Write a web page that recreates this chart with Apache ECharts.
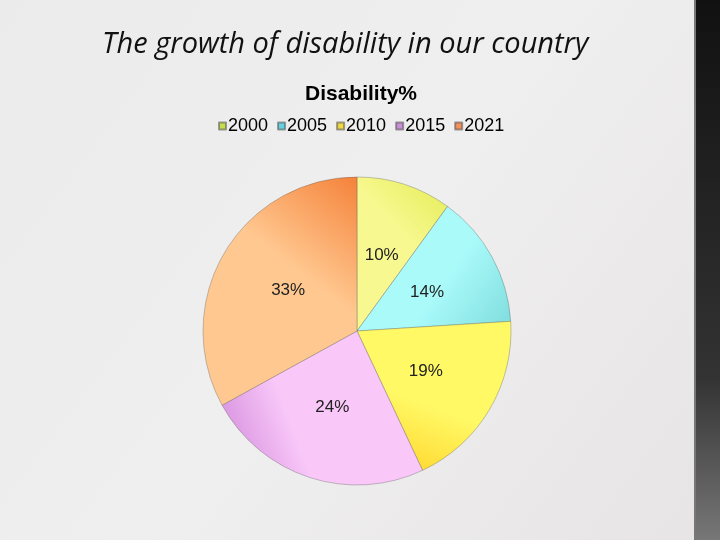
<!DOCTYPE html>
<html>
<head>
<meta charset="utf-8">
<script src="https://cdn.jsdelivr.net/npm/echarts@6/dist/echarts.min.js"></script>
<style>
html,body{margin:0;padding:0;width:720px;height:540px;overflow:hidden;}
#c{width:720px;height:540px;}
</style>
</head>
<body>
<div id="c"></div>
<script>
const categories = ['2000', '2005', '2010', '2015', '2021'];
const values = [10, 14, 19, 24, 33];
const lightColors = ['#f8f890', '#aafafa', '#fff966', '#f9c8f9', '#ffc890'];
const darkColors = ['#e6ee5c', '#7edcdc', '#ffd830', '#d690de', '#f5823a'];
const gradDirs = [
  [0.1, 0.6, 1, 0.1],
  [0.2, 0.3, 1, 1],
  [0.6, 0.2, 0.3, 1],
  [0.6, 0.4, 0, 0.7],
  [0.2, 0.7, 1, 0]
];
const legendColors = ['#c8dc50', '#66d0e0', '#f0d840', '#c890d8', '#f4905a'];

const chart = echarts.init(document.getElementById('c'));

const data = categories.map((name, i) => ({
  name: name,
  value: values[i],
  itemStyle: {
    color: new echarts.graphic.LinearGradient(gradDirs[i][0], gradDirs[i][1], gradDirs[i][2], gradDirs[i][3], [
      { offset: 0, color: lightColors[i] },
      { offset: 0.45, color: lightColors[i] },
      { offset: 1, color: darkColors[i] }
    ])
  }
}));

chart.setOption({
  backgroundColor: new echarts.graphic.LinearGradient(0, 0, 1, 1, [
    { offset: 0, color: '#ecebeb' },
    { offset: 0.5, color: '#f0efef' },
    { offset: 1, color: '#e6e4e4' }
  ]),
  animation: false,
  graphic: [
    { type: 'rect', right: 0, top: 0, shape: { width: 24, height: 540 },
      style: { fill: new echarts.graphic.LinearGradient(0, 0, 0, 1, [
        { offset: 0, color: '#111' }, { offset: 0.7, color: '#333' }, { offset: 1, color: '#777' }]) } },
    { type: 'rect', right: 24, top: 0, shape: { width: 2, height: 540 },
      style: { fill: '#777' } }
  ],
  title: [
    { text: 'The growth of disability in our country', left: 97, top: 25,
      textStyle: { fontFamily: 'Open Sans', fontStyle: 'italic', fontWeight: 'normal', fontSize: 29, color: '#111' } },
    { text: 'Disability%', left: 300, top: 79,
      textStyle: { fontFamily: 'Liberation Sans', fontWeight: 'bold', fontSize: 21, color: '#000' } }
  ],
  legend: {
    data: categories.map((n, i) => ({ name: n, itemStyle: { color: legendColors[i] } })),
    top: 112, left: 213,
    icon: 'rect', itemWidth: 7, itemHeight: 7, itemGap: 9,
    textStyle: { fontFamily: 'Liberation Sans', fontSize: 18, color: '#000', padding: [0, 0, 0, -3] }
  },
  series: [{
    type: 'pie',
    center: [357, 331],
    radius: [0, 154],
    startAngle: 90,
    clockwise: true,
    data: data,
    itemStyle: { borderColor: 'rgba(80,80,80,0.55)', borderWidth: 0.6 },
    label: {
      show: true, position: 'inner',
      formatter: p => p.value + '%',
      fontFamily: 'Liberation Sans', fontSize: 17, color: '#222'
    },
    labelLine: { show: false },
    emphasis: { disabled: true }
  }]
});
</script>
</body>
</html>
